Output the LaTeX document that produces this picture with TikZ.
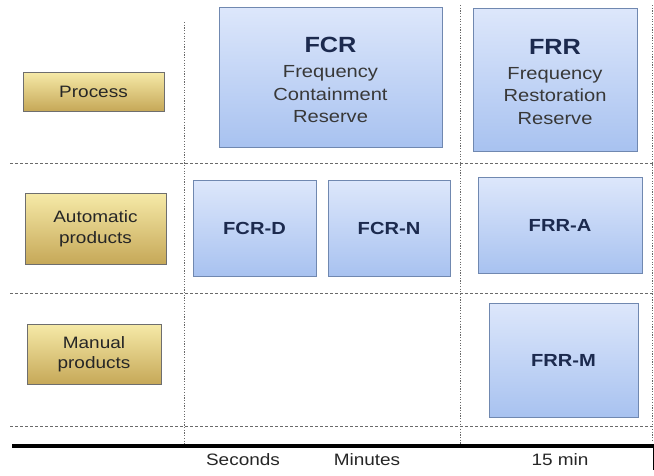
\documentclass[tikz,border=0pt]{standalone}
\usepackage{fontspec}
\setmainfont[FakeStretch=1.15]{Liberation Sans}
\definecolor{bluetop}{HTML}{DDE7FB}
\definecolor{bluebot}{HTML}{A8C2F0}
\definecolor{blueline}{HTML}{7088B0}
\definecolor{goldtop}{HTML}{F6EAA8}
\definecolor{goldbot}{HTML}{C6A858}
\definecolor{goldline}{HTML}{6E6E6E}
\definecolor{navy}{HTML}{1C2A4E}
\definecolor{bodytxt}{HTML}{383838}
\definecolor{gridline}{HTML}{6A6A6A}
\newcommand\ttlline[1]{{\fontsize{22}{26}\selectfont\bfseries\color{navy}#1}}
\tikzset{
  boxbase/.style={draw=blueline, line width=0.9pt, top color=bluetop, bottom color=bluebot, inner sep=0pt, align=center},
  bluebox/.style={boxbase, text=navy, font=\fontsize{17.5}{21}\selectfont\bfseries},
  bigtxt/.style={inner sep=0pt, align=center, text=bodytxt, font=\fontsize{17.5}{22.5}\selectfont},
  goldbox/.style={draw=goldline, line width=0.9pt, top color=goldtop, bottom color=goldbot, inner sep=0pt, align=center, text=black!85, font=\fontsize{16.5}{20.5}\selectfont},
  hgrid/.style={draw=gridline, line width=0.8pt, dash pattern=on 3pt off 2pt},
  vgrid/.style={draw=gridline, line width=0.9pt, dash pattern=on 1.2pt off 1.5pt},
  axislbl/.style={font=\fontsize{16.5}{19}\selectfont, text=black!85, inner sep=0pt}
}
\begin{document}
\begin{tikzpicture}[x=1pt,y=-1pt]
\useasboundingbox (0,0) rectangle (654,475);
% grid lines
\coordinate (h1l) at (10,163); \coordinate (h1r) at (654,163);
\coordinate (h2l) at (10,293); \coordinate (h2r) at (654,293);
\coordinate (h3l) at (10,426); \coordinate (h3r) at (654,426);
\draw[hgrid] (h1l) -- (h1r);
\draw[hgrid] (h2l) -- (h2r);
\draw[hgrid] (h3l) -- (h3r);
\coordinate (v1t) at (184,22); \coordinate (v1b) at (184,444);
\coordinate (v2t) at (460,5); \coordinate (v2b) at (460,444);
\coordinate (v3t) at (652,5); \coordinate (v3b) at (652,440);
\draw[vgrid] (v1t) -- (v1b);
\draw[vgrid] (v2t) -- (v2b);
\draw[vgrid] (v3t) -- (v3b);
% axis
\coordinate (axl) at (12,446); \coordinate (axr) at (654,446);
\draw[line width=4pt, black] (axl) -- (axr);
\coordinate (tkt) at (653,446); \coordinate (tkb) at (653,470);
\draw[line width=1pt, black] (tkt) -- (tkb);
% row labels
\node[goldbox, minimum width=141pt, minimum height=39pt] (process) at (93.5,91.5) {Process};
\node[goldbox, minimum width=141pt, minimum height=71pt] (auto) at (95.5,228.5) {Automatic\\products};
\node[goldbox, minimum width=134pt, minimum height=60pt] (manual) at (94,354) {Manual\\products};
% blue boxes
\node[boxbase, minimum width=223pt, minimum height=140pt] (fcr) at (330.5,77) {};
\node[boxbase, minimum width=164pt, minimum height=143pt] (frr) at (555,79.5) {};
\node[bigtxt] (fcrtxt) at (330.5,80) {\ttlline{FCR}\\[2.5pt]Frequency\\Containment\\Reserve};
\node[bigtxt] (frrtxt) at (555,82) {\ttlline{FRR}\\[2.5pt]Frequency\\Restoration\\Reserve};
\node[bluebox, minimum width=123pt, minimum height=96pt] (fcrd) at (254.5,228) {FCR-D};
\node[bluebox, minimum width=122pt, minimum height=96pt] (fcrn) at (389,228) {FCR-N};
\node[bluebox, minimum width=164pt, minimum height=96pt] (frra) at (560,225) {FRR-A};
\node[bluebox, minimum width=149pt, minimum height=114pt] (frrm) at (563.5,360) {FRR-M};
% axis labels
\node[axislbl] (sec) at (243,460) {Seconds};
\node[axislbl] (min) at (367,460) {Minutes};
\node[axislbl] (q) at (560,460) {15 min};
\end{tikzpicture}
\end{document}
